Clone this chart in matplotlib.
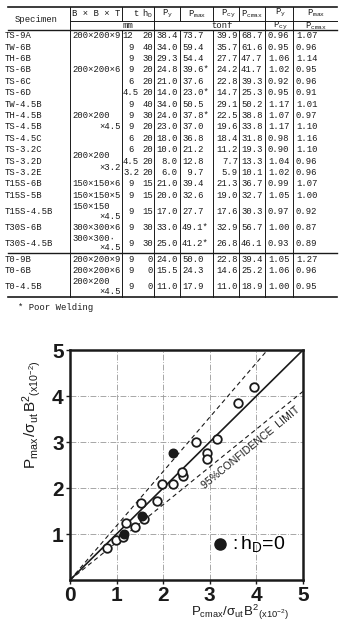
import matplotlib as mpl
mpl.use('Agg')
import matplotlib.pyplot as plt
import numpy as np

plt.rcParams['mathtext.fontset'] = 'custom'
plt.rcParams['mathtext.rm'] = 'Liberation Mono'
plt.rcParams['mathtext.it'] = 'Liberation Mono'
plt.rcParams['mathtext.sf'] = 'Liberation Sans'

# ---- table data ----
specimens = ['TS-9A', 'TW-6B', 'TH-6B', 'TS-6B', 'TS-6C', 'TS-6D', 'TW-4.5B',
             'TH-4.5B', 'TS-4.5B', 'TS-4.5C', 'TS-3.2C', 'TS-3.2D', 'TS-3.2E',
             'T15S-6B', 'T15S-5B', 'T15S-4.5B', 'T30S-6B', 'T30S-4.5B',
             'T0-9B', 'T0-6B', 'T0-4.5B']
t_mm = ['12', '9', '9', '9', '6', '4.5', '9', '9', '9', '6', '6', '4.5', '3.2',
        '9', '9', '9', '9', '9', '9', '9', '9']
h_d = ['20', '40', '30', '20', '20', '20', '40', '30', '20', '20', '20', '20',
       '20', '15', '15', '15', '30', '30', '0', '0', '0']
p_y = ['38.4', '34.0', '29.3', '24.8', '21.0', '14.0', '34.0', '24.0', '23.0',
       '18.0', '10.0', '8.0', '6.0', '21.0', '20.0', '17.0', '33.0', '25.0',
       '24.0', '15.5', '11.0']
p_max = ['73.7', '59.4', '54.4', '39.6*', '37.6', '23.0*', '50.5', '37.8*',
         '37.0', '36.8', '21.2', '12.8', '9.7', '39.4', '32.6', '27.7', '49.1*',
         '41.2*', '50.0', '24.3', '17.9']
p_cy = ['39.9', '35.7', '27.7', '24.2', '22.8', '14.7', '29.1', '22.5', '19.6',
        '18.4', '11.2', '7.7', '5.9', '21.3', '19.0', '17.6', '32.9', '26.8',
        '22.8', '14.6', '11.0']
p_cmax = ['68.7', '61.6', '47.7', '41.7', '39.3', '25.3', '50.2', '38.8', '33.8',
          '31.8', '19.3', '13.3', '10.1', '36.7', '32.7', '30.3', '56.7', '46.1',
          '39.4', '25.2', '18.9']
ratio_y = ['0.96', '0.95', '1.06', '1.02', '0.92', '0.95', '1.17', '1.07', '1.17',
           '0.98', '0.90', '1.04', '1.02', '0.99', '1.05', '0.97', '1.00', '0.93',
           '1.05', '1.06', '1.00']
ratio_max = ['1.07', '0.96', '1.14', '0.95', '0.96', '0.91', '1.01', '0.97',
             '1.10', '1.16', '1.10', '0.96', '0.96', '1.07', '1.00', '0.92',
             '0.87', '0.89', '1.27', '0.96', '0.95']
# section sizes: (row, offset in rows, text, right aligned?)
sections = [(0, 0, '200×200×9', False), (3, 0, '200×200×6', False),
            (7, 0, '200×200', False), (8, 0, '×4.5', True),
            (10, 0.5, '200×200', False), (11, 0.55, '×3.2', True),
            (13, 0, '150×150×6', False), (14, 0, '150×150×5', False),
            (15, -0.42, '150×150', False), (15, 0.42, '×4.5', True),
            (16, 0, '300×300×6', False),
            (17, -0.42, '300×300·', False), (17, 0.42, '×4.5', True),
            (18, 0, '200×200×9', False), (19, 0, '200×200×6', False),
            (20, -0.42, '200×200', False), (20, 0.42, '×4.5', True)]
double_rows = [15, 17, 20]

# ---- plot data ----
open_x = [0.80, 0.99, 1.14, 1.20, 1.39, 1.59, 1.52, 1.86, 1.97, 2.20, 2.43,
          2.40, 2.70, 2.93, 2.93, 3.15, 3.60, 3.95]
open_y = [0.69, 0.88, 0.94, 1.25, 1.15, 1.32, 1.67, 1.72, 2.09, 2.09, 2.26,
          2.35, 3.01, 2.77, 2.62, 3.07, 3.84, 4.20]
zero_x = [1.16, 1.54, 2.22]   # h_D = 0
zero_y = [1.01, 1.39, 2.77]
fit_slope = 1.0
conf_slopes = [1.18, 0.82]

ink = '#1a1a1a'
fig = plt.figure(figsize=(3.41, 6.25), dpi=100)

# table drawn on a pixel-sized helper axes
tab = fig.add_axes([0, 0, 1, 1])
tab.set_xlim(0, 341)
tab.set_ylim(625, 0)
tab.axis('off')

row_h = 11.4
heights = np.array([1.8 if i in double_rows else 1 for i in range(len(specimens))])
tops = 30 + row_h * np.concatenate([[0], np.cumsum(heights)[:-1]])
centers = tops + row_h * heights / 2
bottom = 30 + row_h * heights.sum()

tk = dict(family='Liberation Mono', fontsize=6.4, color=ink, va='center')
for i, name in enumerate(specimens):
    y = centers[i]
    tab.text(5, y, name, ha='left', **tk)
    if '.' in t_mm[i]:
        tab.text(123, y, t_mm[i], ha='left', **tk)
    else:
        tab.text(133.5, y, t_mm[i], ha='right', **tk)
    tab.text(153, y, h_d[i], ha='right', **tk)
    tab.text(177.5, y, p_y[i], ha='right', **tk)
    tab.text(182, y, '%5s' % p_max[i] if '*' in p_max[i] else '%4s' % p_max[i],
             ha='left', **tk)
    tab.text(238, y, p_cy[i], ha='right', **tk)
    tab.text(241, y, p_cmax[i], ha='left', **tk)
    tab.text(268, y, ratio_y[i], ha='left', **tk)
    tab.text(296, y, ratio_max[i], ha='left', **tk)
for r, dy, txt, right in sections:
    y = centers[r] + dy * row_h
    if right:
        tab.text(121, y, txt, ha='right', **tk)
    else:
        tab.text(72, y, txt, ha='left', **tk)

# header
hy1, hy2 = 14, 26
tab.text(36, 19, 'Specimen', ha='center', **tk)
tab.text(96, hy1, 'B × B × T', ha='center', **tk)
tab.text(136, hy1, 't', ha='center', **tk)
tab.text(147, hy1, r'$h_D$', ha='center', **tk)
tab.text(167, hy1, r'$P_y$', ha='center', **tk)
tab.text(197, hy1, r'$P_{max}$', ha='center', **tk)
tab.text(228, hy1, r'$P_{cy}$', ha='center', **tk)
tab.text(252, hy1, r'$P_{cmax}$', ha='center', **tk)
tab.text(280, hy1 - 1, r'$P_y$', ha='center', **tk)
tab.text(316, hy1 - 1, r'$P_{max}$', ha='center', **tk)
tab.text(128, hy2, 'mm', ha='center', **tk)
tab.text(222, hy2, 'tonf', ha='center', **tk)
tab.text(280, hy2, r'$P_{cy}$', ha='center', **tk)
tab.text(316, hy2, r'$P_{cmax}$', ha='center', **tk)

lk = dict(color=ink, lw=0.7)
tab.plot([8, 337], [7, 7], color=ink, lw=1.2)
tab.plot([70, 337], [20.5, 20.5], **lk)
tab.plot([8, 337], [30, 30], color=ink, lw=1.0)
tab.plot([8, 337], [tops[18], tops[18]], color=ink, lw=1.0)
tab.plot([8, 337], [bottom, bottom], color=ink, lw=1.2)
for x in [70, 122, 154, 180, 213, 239, 265, 293]:
    tab.plot([x, x], [30, bottom], **lk)
    tab.plot([x, x], [7, 20.5], **lk)
for x in [70, 154, 265, 293]:
    tab.plot([x, x], [20.5, 30], **lk)
tab.text(18, 307, '* Poor Welding', ha='left', **tk)

# scatter plot
ax = fig.add_axes([70/341, 45/625, 233/341, 230/625])
ax.set_xlim(0, 5)
ax.set_ylim(0, 5)
ax.grid(True, color='0.6', lw=0.6, linestyle=(0, (7, 2, 1, 2)))
ax.set_axisbelow(True)
ax.axline((0, 0), slope=fit_slope, color=ink, lw=1.2, zorder=2)
for s in conf_slopes:
    ax.axline((0, 0), slope=s, color=ink, lw=0.8, linestyle=(0, (4, 3)), zorder=2)
ax.scatter(open_x, open_y, s=38, facecolors='white', edgecolors=ink,
           linewidths=1.3, zorder=3)
zero = ax.scatter(zero_x, zero_y, s=38, color=ink, zorder=3,
                  label=r'$\mathsf{:h_D\!=\!0}$')
ax.legend(handles=[zero], loc='center left', bbox_to_anchor=(0.57, 0.155),
          frameon=False, handletextpad=0.1, handlelength=0.8, borderpad=0,
          markerscale=1.3, scatterpoints=1,
          prop=dict(family='Liberation Sans', size=14))

ax.set_xticks([0, 1, 2, 3, 4, 5])
ax.set_yticks([1, 2, 3, 4, 5])
ax.tick_params(length=3, width=1, pad=1.5, labelsize=15, colors=ink)
for lab in ax.get_xticklabels() + ax.get_yticklabels():
    lab.set_family('Liberation Sans')
    lab.set_fontweight('bold')
for sp in ax.spines.values():
    sp.set_linewidth(1.8)
    sp.set_color(ink)

ax.text(-0.165, 0.72, r'$\mathsf{P_{max}\,/\sigma_{ut}\,B^{2}{}_{(x10^{-2})}}$',
        transform=ax.transAxes, rotation=90, ha='center', va='center',
        fontsize=11, color=ink)
ax.text(0.73, -0.143, r'$\mathsf{P_{cmax}/\sigma_{ut}\,B^{2}{}_{(x10^{-2})}}$',
        transform=ax.transAxes, ha='center', va='center', fontsize=9.5, color=ink)
ax.text(2.78, 2.12, '95%CONFIDENCE  LIMIT', rotation=39.3, rotation_mode='anchor',
        ha='left', va='top', family='Liberation Sans', fontsize=7.6, color=ink)

fig.savefig('out.png', dpi=100, facecolor='white')
